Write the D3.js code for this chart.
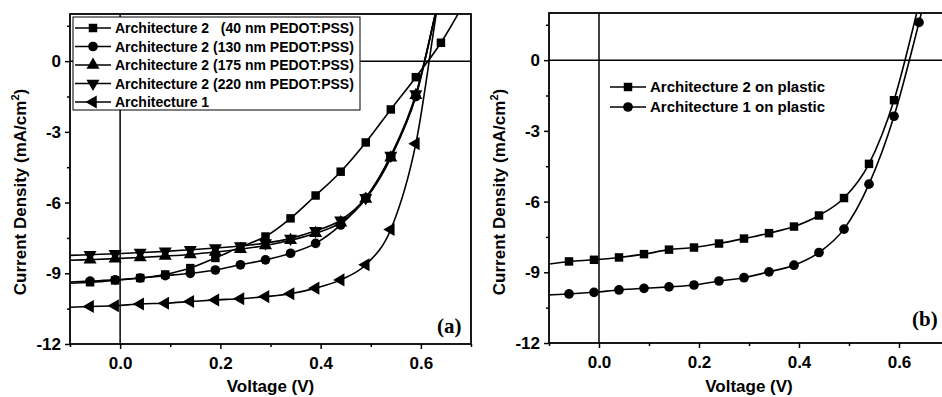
<!DOCTYPE html>
<html>
<head>
<meta charset="utf-8">
<script src="https://cdn.jsdelivr.net/npm/d3@7"></script>
<style>
body { margin: 0; background: #fff; }
svg text { font-family: "Liberation Sans", Arial, sans-serif; fill: #000; }
</style>
</head>
<body>
<div id="chart"></div>
<script>
/******************************* DATA *******************************/

// voltage grid (V) shared by every curve; first point sits on the axis
var voltage = [-0.1, -0.06, -0.01, 0.04, 0.09, 0.14, 0.19, 0.24, 0.29, 0.34, 0.39, 0.44, 0.49, 0.54, 0.59, 0.64, 0.69];

// panel (a) current density, mA/cm2
var pedot40  = [-9.42, -9.38, -9.30, -9.20, -9.05, -8.78, -8.35, -7.88, -7.44, -6.67, -5.70, -4.69, -3.45, -2.05, -0.68, 0.78, 2.6];
var pedot130 = [-9.37, -9.33, -9.28, -9.20, -9.10, -9.00, -8.86, -8.64, -8.43, -8.15, -7.73, -6.95, -5.80, -4.05, -1.50, 3.0, 7];
var pedot175 = [-8.45, -8.42, -8.38, -8.33, -8.27, -8.20, -8.10, -7.98, -7.82, -7.60, -7.30, -6.85, -5.85, -4.10, -1.45, 3.0, 7];
var pedot220 = [-8.24, -8.21, -8.17, -8.12, -8.07, -8.00, -7.93, -7.84, -7.72, -7.52, -7.20, -6.75, -5.80, -4.00, -1.40, 3.0, 7];
var arch1    = [-10.44, -10.41, -10.38, -10.30, -10.27, -10.20, -10.13, -10.08, -9.99, -9.87, -9.63, -9.28, -8.64, -7.14, -3.50, 3.2, 8];

// panel (b) current density, mA/cm2
var arch2Plastic = [-8.65, -8.54, -8.47, -8.37, -8.23, -8.04, -7.95, -7.78, -7.57, -7.34, -7.06, -6.59, -5.85, -4.40, -1.70, 2.4, 7];
var arch1Plastic = [-9.96, -9.92, -9.85, -9.75, -9.68, -9.62, -9.54, -9.37, -9.23, -8.98, -8.70, -8.16, -7.17, -5.26, -2.38, 1.6, 6];

var legendA = ["Architecture 2   (40 nm PEDOT:PSS)", "Architecture 2 (130 nm PEDOT:PSS)",
               "Architecture 2 (175 nm PEDOT:PSS)", "Architecture 2 (220 nm PEDOT:PSS)", "Architecture 1"];
var legendB = ["Architecture 2 on plastic", "Architecture 1 on plastic"];

var xTicks = [0, 0.2, 0.4, 0.6];
var xMinor = [-0.1, 0.1, 0.3, 0.5, 0.7];
var yTicks = [0, -3, -6, -9, -12];
var yMinor = [1.5, -1.5, -4.5, -7.5, -10.5];

/******************************* SETUP *******************************/

var svg = d3.select("#chart").append("svg")
    .attr("width", 942)
    .attr("height", 397);

// marker shapes: [d3 symbol, rotation, area]
var shapes = {
    square: [d3.symbolSquare, 0, 72],
    circle: [d3.symbolCircle, 0, 74],
    up: [d3.symbolTriangle, 0, 74],
    down: [d3.symbolTriangle, 180, 74],
    left: [d3.symbolTriangle, -90, 74]
};

function marker(g, shape, cx, cy) {
    var s = shapes[shape];
    g.append("path")
        .attr("d", d3.symbol().type(s[0]).size(s[2])())
        .attr("transform", "translate(" + cx + "," + cy + ") rotate(" + s[1] + ")")
        .attr("fill", "#000");
}

function drawPanel(p) {
    var x = d3.scaleLinear().domain([-0.1, 0.7]).range([p.left, p.right]);
    var y = d3.scaleLinear().domain([-12, 2]).range([p.bottom, p.top]);

    var g = svg.append("g");

    g.append("clipPath").attr("id", p.id + "-clip")
        .append("rect")
        .attr("x", p.left).attr("y", p.top)
        .attr("width", p.right - p.left).attr("height", p.bottom - p.top);

    var plot = g.append("g").attr("clip-path", "url(#" + p.id + "-clip)");

    // zero lines
    plot.append("line")
        .attr("x1", p.left).attr("x2", p.right)
        .attr("y1", y(0)).attr("y2", y(0))
        .attr("stroke", "#000").attr("stroke-width", 1.5);
    plot.append("line")
        .attr("x1", x(0)).attr("x2", x(0))
        .attr("y1", p.top).attr("y2", p.bottom)
        .attr("stroke", "#000").attr("stroke-width", 1.5);

    var line = d3.line()
        .x(function(d) { return x(d[0]); })
        .y(function(d) { return y(d[1]); })
        .curve(d3.curveMonotoneX);

    p.series.forEach(function(s) {
        var pts = voltage.map(function(v, i) { return [v, s.values[i]]; });
        plot.append("path")
            .datum(pts)
            .attr("d", line)
            .attr("fill", "none")
            .attr("stroke", "#000")
            .attr("stroke-width", 1.6);
        pts.forEach(function(d) {
            // markers every 50 mV, none on the axis start or above the frame
            if (d[0] > -0.09 && d[1] <= 2) marker(plot, s.shape, x(d[0]), y(d[1]));
        });
    });

    // frame
    g.append("rect")
        .attr("x", p.left).attr("y", p.top)
        .attr("width", p.right - p.left).attr("height", p.bottom - p.top)
        .attr("fill", "none").attr("stroke", "#000").attr("stroke-width", 1.8);

    // axes
    g.append("g")
        .attr("transform", "translate(0," + p.bottom + ")")
        .call(d3.axisBottom(x).tickValues(xTicks).tickSize(5).tickPadding(8).tickFormat(d3.format(".1f")));
    g.append("g")
        .attr("transform", "translate(0," + p.bottom + ")")
        .call(d3.axisBottom(x).tickValues(xMinor).tickSize(3).tickFormat(""));
    g.append("g")
        .attr("transform", "translate(" + p.left + ",0)")
        .call(d3.axisLeft(y).tickValues(yTicks).tickSize(5).tickPadding(4).tickFormat(function(d) { return String(d); }));
    g.append("g")
        .attr("transform", "translate(" + p.left + ",0)")
        .call(d3.axisLeft(y).tickValues(yMinor).tickSize(3).tickFormat(""));

    g.selectAll(".domain").remove();
    g.selectAll(".tick line").attr("stroke", "#000").attr("stroke-width", 1.5);
    g.selectAll(".tick text")
        .style("font-family", "'Liberation Sans', Arial, sans-serif")
        .style("font-size", "17px")
        .style("font-weight", "bold")
        .attr("fill", "#000");

    // axis titles
    g.append("text")
        .attr("x", (p.left + p.right) / 2)
        .attr("y", 392)
        .attr("text-anchor", "middle")
        .style("font-size", "17px")
        .style("font-weight", "bold")
        .text("Voltage (V)");

    var yl = g.append("text")
        .attr("transform", "translate(" + p.ylabelX + ",192) rotate(-90)")
        .attr("text-anchor", "middle")
        .style("font-size", "17px")
        .style("font-weight", "bold");
    yl.append("tspan").text("Current Density (mA/cm");
    yl.append("tspan").attr("dy", -7).style("font-size", "11px").text("2");
    yl.append("tspan").attr("dy", 7).text(")");

    // panel letter
    g.append("text")
        .attr("x", p.tagX).attr("y", p.tagY)
        .style("font-family", "'Liberation Serif', 'Times New Roman', serif")
        .style("font-size", "21px")
        .style("font-weight", "bold")
        .text(p.tag);

    // legend
    var lg = g.append("g");
    if (p.legend.box) {
        lg.append("rect")
            .attr("x", p.legend.box[0]).attr("y", p.legend.box[1])
            .attr("width", p.legend.box[2]).attr("height", p.legend.box[3])
            .attr("fill", "#fff").attr("stroke", "#000").attr("stroke-width", 1);
    }
    p.series.forEach(function(s, i) {
        var ly = p.legend.y0 + i * p.legend.step;
        lg.append("line")
            .attr("x1", p.legend.x0).attr("x2", p.legend.x0 + 36)
            .attr("y1", ly).attr("y2", ly)
            .attr("stroke", "#000").attr("stroke-width", 1.6);
        marker(lg, s.shape, p.legend.x0 + 18, ly);
        lg.append("text")
            .attr("x", p.legend.x0 + 40)
            .attr("y", ly)
            .attr("dy", "0.36em")
            .style("white-space", "pre")
            .style("font-size", p.legend.size + "px")
            .style("font-weight", "bold")
            .text(p.legend.labels[i]);
    });
}

/******************************* PANELS *******************************/

drawPanel({
    id: "a", left: 70, right: 471, top: 14, bottom: 344,
    ylabelX: 26, tag: "(a)", tagX: 437, tagY: 333,
    series: [
        { values: pedot40, shape: "square" },
        { values: pedot130, shape: "circle" },
        { values: pedot175, shape: "up" },
        { values: pedot220, shape: "down" },
        { values: arch1, shape: "left" }
    ],
    legend: { labels: legendA, x0: 75, y0: 28, step: 18.5, size: 14, box: [73, 17, 287, 93] }
});

drawPanel({
    id: "b", left: 549, right: 949, top: 13, bottom: 343,
    ylabelX: 505, tag: "(b)", tagX: 912, tagY: 326,
    series: [
        { values: arch2Plastic, shape: "square" },
        { values: arch1Plastic, shape: "circle" }
    ],
    legend: { labels: legendB, x0: 610, y0: 87, step: 20, size: 15, box: null }
});
</script>
</body>
</html>
